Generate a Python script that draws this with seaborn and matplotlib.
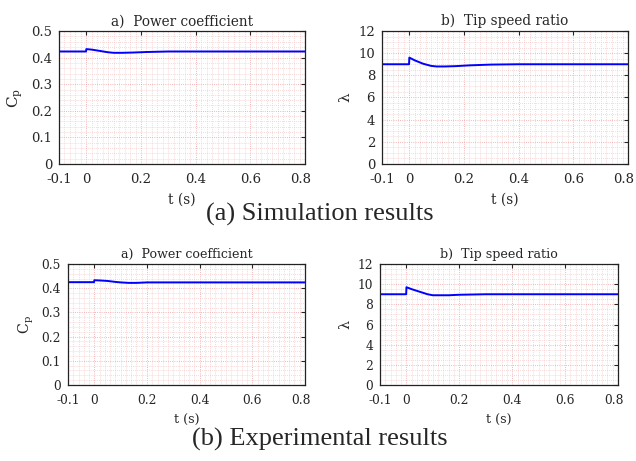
import numpy as np
import pandas as pd
import matplotlib
matplotlib.use("Agg")
import matplotlib.pyplot as plt
import matplotlib.transforms as mtransforms
import seaborn as sns
from matplotlib.ticker import MultipleLocator

# simulation results
sim_t = [-0.1, -0.001, 0.0, 0.02, 0.05, 0.08, 0.1, 0.13, 0.17, 0.22, 0.3, 0.4, 0.8]
sim_cp = [0.423, 0.423, 0.432, 0.430, 0.425, 0.420, 0.418, 0.418, 0.419, 0.421, 0.423, 0.423, 0.423]
sim_lam = [9.0, 9.0, 9.6, 9.35, 9.05, 8.85, 8.8, 8.8, 8.83, 8.9, 8.97, 9.0, 9.0]

# experimental results
exp_t = [-0.1, -0.001, 0.0, 0.02, 0.05, 0.08, 0.1, 0.13, 0.16, 0.2, 0.3, 0.8]
exp_cp = [0.425, 0.425, 0.433, 0.432, 0.430, 0.426, 0.424, 0.422, 0.422, 0.424, 0.424, 0.424]
exp_lam = [9.0, 9.0, 9.7, 9.5, 9.25, 9.0, 8.9, 8.9, 8.9, 8.95, 9.0, 9.0]

x_ticks = [-0.1, 0, 0.2, 0.4, 0.6, 0.8]
x_ticklabels = ["-0.1", "0", "0.2", "0.4", "0.6", "0.8"]

sns.set_style("white")
plt.rcParams["font.family"] = ["DejaVu Serif"]
plt.rcParams["mathtext.fontset"] = "dejavuserif"

fig = plt.figure(figsize=(6.36, 4.61), dpi=100)
W, H = 636, 461

def add_ax(l, t, r, b):
    return fig.add_axes([l / W, 1 - b / H, (r - l) / W, (b - t) / H])

def style(ax, title, ylabel, ylim, ymaj, ymin, fs):
    ax.set_xlim(-0.1, 0.8)
    ax.set_ylim(*ylim)
    ax.set_xticks(x_ticks)
    ax.set_xticklabels(x_ticklabels)
    ax.yaxis.set_major_locator(MultipleLocator(ymaj))
    ax.xaxis.set_minor_locator(MultipleLocator(0.02))
    ax.yaxis.set_minor_locator(MultipleLocator(ymin))
    ax.grid(True, which="major", color="#eea0a0", linestyle=":", linewidth=0.6)
    ax.grid(True, which="minor", color="#f4c4c4", linestyle=":", linewidth=0.55)
    ax.tick_params(which="major", direction="in", length=3, width=0.8,
                   top=True, right=True, labelsize=fs, pad=5)
    ax.tick_params(axis="x", which="major", pad=6.5)
    ax.tick_params(which="minor", length=0)
    for s in ax.spines.values():
        s.set_linewidth(0.9)
        s.set_color("#222222")
    ax.set_title(title, fontsize=fs + 0.3, pad=4)
    ax.set_xlabel("t (s)", fontsize=fs + 0.3, labelpad=5)
    ax.set_ylabel(ylabel, fontsize=fs + 1.5, labelpad=4)
    ax.set_axisbelow(True)
    if ymaj < 1:
        ax.set_yticklabels(["0" if v == 0 else f"{v:.1f}" for v in ax.get_yticks()])
    # nudge the last x label inside the figure
    lab = ax.get_xticklabels()[-1]
    lab.set_transform(lab.get_transform() +
                      mtransforms.ScaledTranslation(-3 / 72, 0, fig.dpi_scale_trans))

panels = [
    ((59, 31, 305, 164), sim_t, sim_cp, "a)  Power coefficient", r"C$_{\rm p}$", (0, 0.5), 0.1, 0.02, 9.5),
    ((382, 31, 628, 164), sim_t, sim_lam, "b)  Tip speed ratio", "λ", (0, 12), 2, 0.5, 9.5),
    ((68, 264, 305, 385), exp_t, exp_cp, "a)  Power coefficient", r"C$_{\rm p}$", (0, 0.5), 0.1, 0.02, 8.8),
    ((380, 264, 618, 385), exp_t, exp_lam, "b)  Tip speed ratio", "λ", (0, 12), 2, 0.5, 8.8),
]

for box, t, y, title, ylabel, ylim, ymaj, ymin, fs in panels:
    ax = add_ax(*box)
    df = pd.DataFrame({"t": t, "y": y})
    sns.lineplot(data=df, x="t", y="y", ax=ax, color="#0000ff", linewidth=1.4)
    style(ax, title, ylabel, ylim, ymaj, ymin, fs)

fig.text(320 / W, 1 - 214 / H, "(a) Simulation results", ha="center", va="center",
         fontsize=19, family="Liberation Serif")
fig.text(320 / W, 1 - 439 / H, "(b) Experimental results", ha="center", va="center",
         fontsize=19, family="Liberation Serif")

fig.savefig("out.png", dpi=100)
